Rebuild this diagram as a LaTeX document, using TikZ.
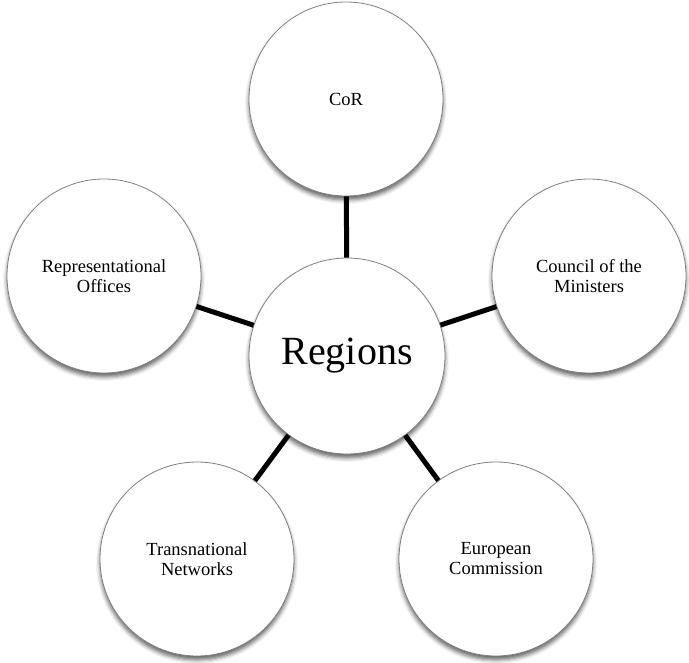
\documentclass[tikz,border=0pt]{standalone}
\usepackage{fontspec}
\setmainfont{Liberation Serif}
\usetikzlibrary{shadows.blur}
\begin{document}
\begin{tikzpicture}[x=1pt,y=-1pt,
  bubble/.style={circle, draw=black!50, line width=0.8pt, fill=white, minimum size=194pt, inner sep=0pt,
    align=center, font=\fontsize{18.5}{20}\selectfont,
    blur shadow={shadow xshift=0pt, shadow yshift=-4pt, shadow blur radius=4pt, shadow opacity=60}},
  link/.style={line width=5pt, black}]
\useasboundingbox (0,0) rectangle (689,663);
\node[bubble, minimum size=196pt, font=\fontsize{40}{44}\selectfont] (reg) at (347,356) {Regions};
\node[bubble] (cor) at (346,99) {CoR};
\node[bubble] (cou) at (589,276) {Council of the\\Ministers};
\node[bubble] (eur) at (496,559) {European\\Commission};
\node[bubble] (tra) at (197,559) {Transnational\\Networks};
\node[bubble] (rep) at (104,276) {Representational\\Offices};
\draw[link] (reg) -- (cor);
\draw[link] (reg) -- (cou);
\draw[link] (reg) -- (eur);
\draw[link] (reg) -- (tra);
\draw[link] (reg) -- (rep);
\end{tikzpicture}
\end{document}
